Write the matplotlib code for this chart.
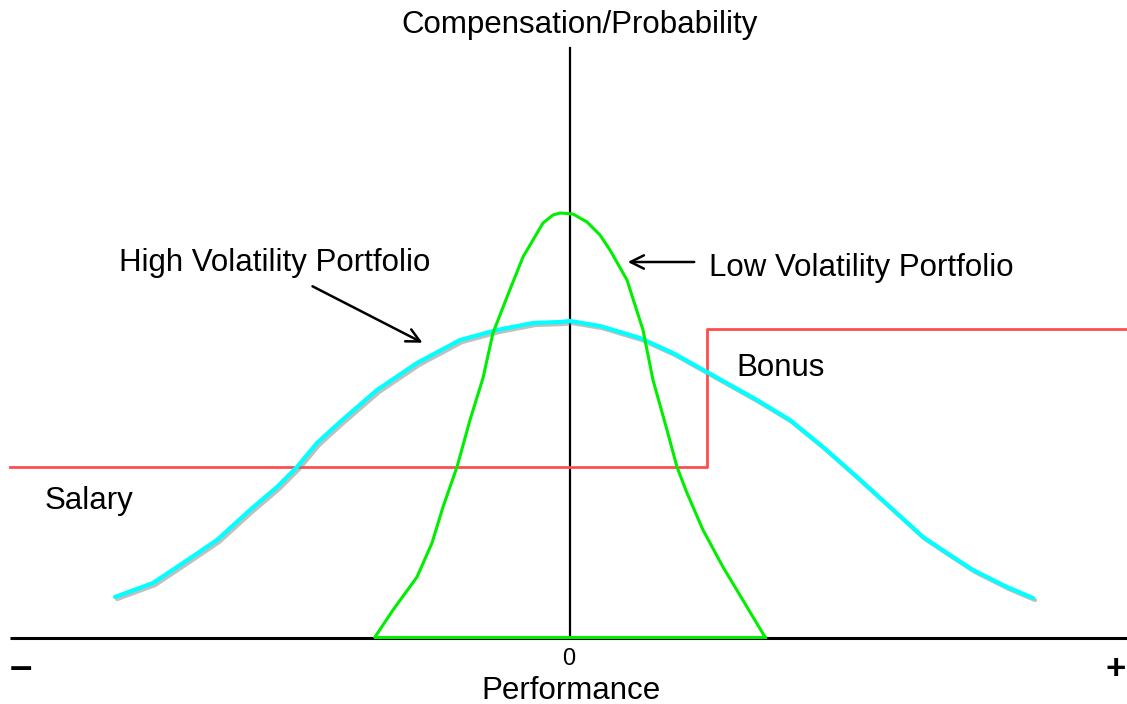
import matplotlib.pyplot as plt
import matplotlib.patheffects as pe

plt.rcParams['font.family'] = ['Liberation Sans', 'DejaVu Sans']

# performance (0 = centre) and compensation/probability (0 = baseline)
high_x = [-455, -417, -387, -353, -320, -293, -273, -253, -230, -193, -153, -110,
          -73, -37, -10, 0, 30, 70, 103, 137, 187, 220, 253, 287, 320, 353,
          377, 403, 437, 463]
high_y = [41, 55, 75, 98, 128, 151, 171, 195, 216, 248, 275, 298,
          308, 315, 316, 317, 312, 300, 285, 266, 238, 218, 191, 161, 131, 101,
          85, 68, 51, 40]

low_x = [-195, -177, -153, -138, -127, -113, -100, -87, -77, -63, -47, -27, -17,
         -10, 3, 17, 30, 40, 57, 73, 83, 97, 107, 117, 133, 153, 177, 195]
low_y = [1, 28, 61, 95, 131, 171, 218, 260, 305, 341, 381, 415, 423,
         425, 424, 416, 403, 388, 358, 308, 258, 208, 171, 145, 108, 71, 31, 1]
low_base_x = [-195, 195]
low_base_y = [1, 1]

pay_x = [-560, 137, 137, 557]
pay_y = [171, 171, 309, 309]

fig = plt.figure(figsize=(11.27, 7.04), dpi=100)
ax = fig.add_axes([0, 0, 1, 1])
ax.set_xlim(-570, 557)
ax.set_ylim(-66, 638)
ax.axis('off')

# axes lines
ax.plot([-560, 557], [0, 0], color='black', lw=2.2, solid_capstyle='butt')
ax.plot([0, 0], [0, 590], color='black', lw=1.6)

ax.plot(pay_x, pay_y, color='#ff4d4d', lw=2)
ax.plot(high_x, high_y, color='#00ffff', lw=3, solid_capstyle='round',
        path_effects=[pe.SimpleLineShadow(offset=(1.5, -1.5), shadow_color='gray', alpha=0.5),
                      pe.Normal()])
ax.plot(low_x, low_y, color='#00ee00', lw=2.2, solid_joinstyle='round')
ax.plot(low_base_x, low_base_y, color='#00ee00', lw=2.2)

fs = 22.5
ax.text(10, 613, 'Compensation/Probability', ha='center', va='center', fontsize=fs)
ax.text(-295, 375, 'High Volatility Portfolio', ha='center', va='center', fontsize=fs)
ax.text(291, 370, 'Low Volatility Portfolio', ha='center', va='center', fontsize=fs)
ax.text(211, 270, 'Bonus', ha='center', va='center', fontsize=fs)
ax.text(-481, 137, 'Salary', ha='center', va='center', fontsize=fs)
ax.text(-1, -21, '0', ha='center', va='center', fontsize=17)
ax.text(1, -53, 'Performance', ha='center', va='center', fontsize=fs)
ax.text(-549, -30, '\u2013', ha='center', va='center', fontsize=29, fontweight='bold')
ax.text(546, -32, '+', ha='center', va='center', fontsize=25, fontweight='bold')

ax.annotate('', xy=(-145, 294), xytext=(-260, 353),
            arrowprops=dict(arrowstyle='->', color='black', lw=1.8, mutation_scale=24))
ax.annotate('', xy=(55, 376), xytext=(127, 376),
            arrowprops=dict(arrowstyle='->', color='black', lw=1.8, mutation_scale=24))

fig.savefig('out.png', dpi=100)
